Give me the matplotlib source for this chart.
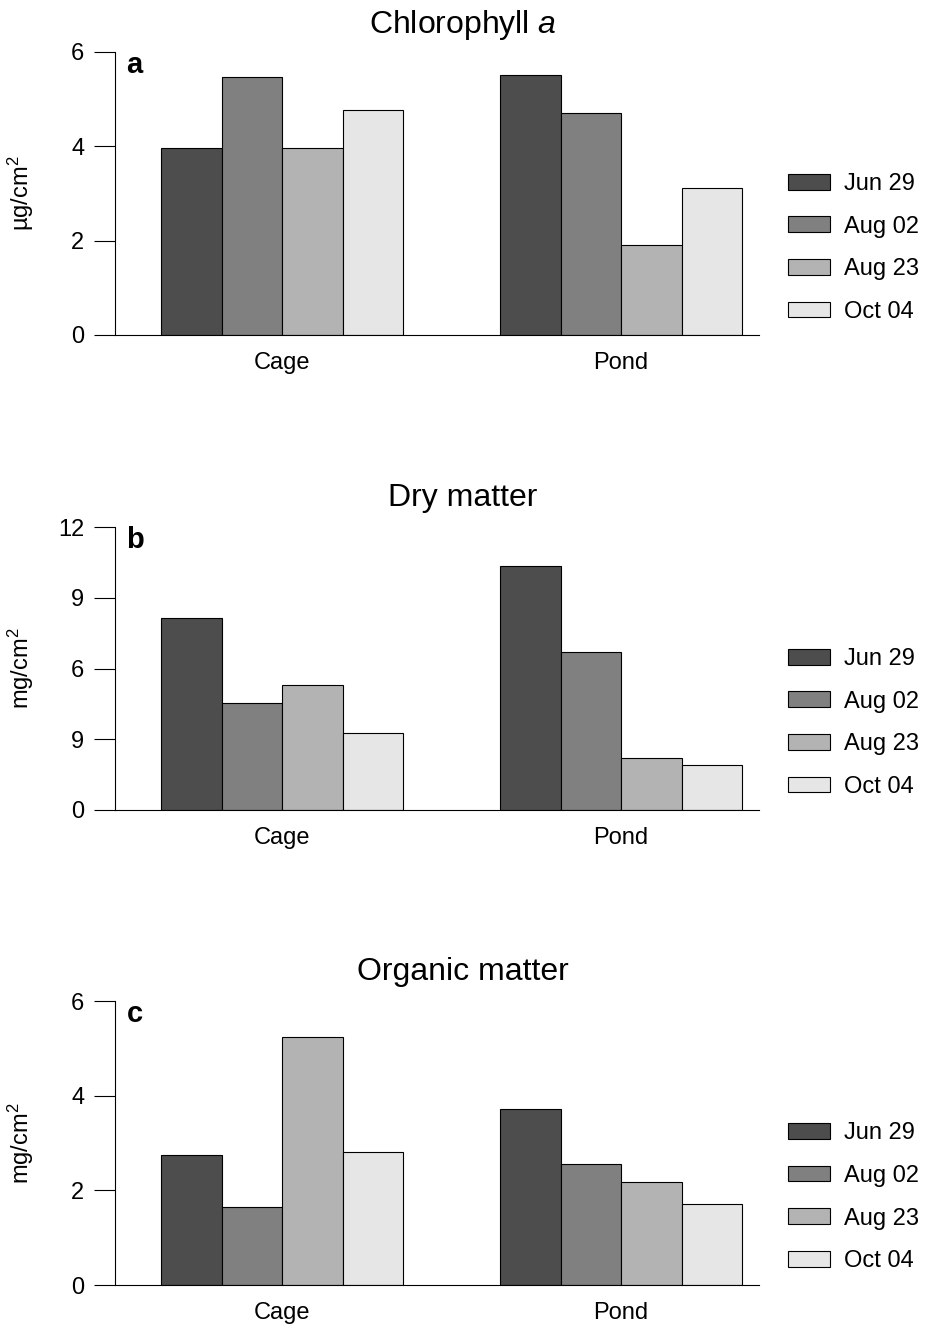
import numpy as np
import matplotlib
matplotlib.use("Agg")
import matplotlib.pyplot as plt

plt.rcParams['font.family'] = ['Liberation Sans', 'DejaVu Sans']
plt.rcParams['mathtext.fontset'] = 'custom'
plt.rcParams['mathtext.rm'] = 'Liberation Sans'
plt.rcParams['mathtext.it'] = 'Liberation Sans:italic'

# data
sites = ["Cage", "Pond"]
dates = ["Jun 29", "Aug 02", "Aug 23", "Oct 04"]
colors = ["#4d4d4d", "#808080", "#b3b3b3", "#e6e6e6"]

chl_a = [[3.96, 5.47, 3.96, 4.77],    # Cage
         [5.51, 4.71, 1.91, 3.12]]    # Pond
dry_matter = [[8.14, 4.54, 5.30, 3.27],
              [10.35, 6.70, 2.21, 1.91]]
organic_matter = [[2.75, 1.65, 5.24, 2.81],
                  [3.72, 2.56, 2.18, 1.71]]

titles = ["Chlorophyll $\\mathit{a}$", "Dry matter", "Organic matter"]
letters = ["a", "b", "c"]
ylabels = ["\u00b5g/cm$^{2}$", "mg/cm$^{2}$", "mg/cm$^{2}$"]
yticks = [[0, 2, 4, 6], [0, 3, 6, 9, 12], [0, 2, 4, 6]]
yticklabels = [["0", "2", "4", "6"], ["0", "9", "6", "9", "12"], ["0", "2", "4", "6"]]
panels = [chl_a, dry_matter, organic_matter]

W, H = 925, 1328
fig = plt.figure(figsize=(W / 100, H / 100), dpi=100)

# axes boxes in pixels: (top, bottom)
boxes = [(52, 335), (527, 810), (1001, 1285)]
title_y = [25, 498, 972]
left_px, right_px = 115, 759

bw = 0.1785
x = np.arange(len(sites))

for k, vals in enumerate(panels):
    top, bot = boxes[k]
    ax = fig.add_axes([left_px / W, 1 - bot / H, (right_px - left_px) / W, (bot - top) / H])
    vals = np.array(vals)
    for j in range(len(dates)):
        ax.bar(x + (j - 1.5) * bw, vals[:, j], width=bw, color=colors[j],
               edgecolor="black", linewidth=0.8, label=dates[j])
    ax.set_xlim(-0.493, 1.407)
    ax.set_ylim(0, yticks[k][-1])
    ax.set_yticks(yticks[k])
    ax.set_yticklabels(yticklabels[k])
    ax.set_xticks(x)
    ax.set_xticklabels(sites)
    ax.tick_params(axis='y', direction='out', length=15, width=0.8, pad=7, labelsize=17)
    ax.tick_params(axis='x', length=0, pad=12, labelsize=17)
    for s in ["top", "right"]:
        ax.spines[s].set_visible(False)
    for s in ["left", "bottom"]:
        ax.spines[s].set_linewidth(0.8)
    ax.set_ylabel(ylabels[k], fontsize=17)
    ax.yaxis.set_label_coords((36 - left_px) / (right_px - left_px), 0.5)
    ax.text(0.018, 1.004, letters[k], transform=ax.transAxes, fontsize=21,
            fontweight="bold", va="top", ha="left")
    fig.text(0.5, 1 - title_y[k] / H, titles[k], fontsize=23, ha="center", va="center")
    ax.legend(loc="upper left", bbox_to_anchor=((788 - left_px) / (right_px - left_px), 1 - (173 - 52) / 283),
              frameon=False, fontsize=17, handlelength=1.78, handleheight=0.64,
              handletextpad=0.6, labelspacing=0.87, borderpad=0, borderaxespad=0)

fig.savefig("out.png", dpi=100)
